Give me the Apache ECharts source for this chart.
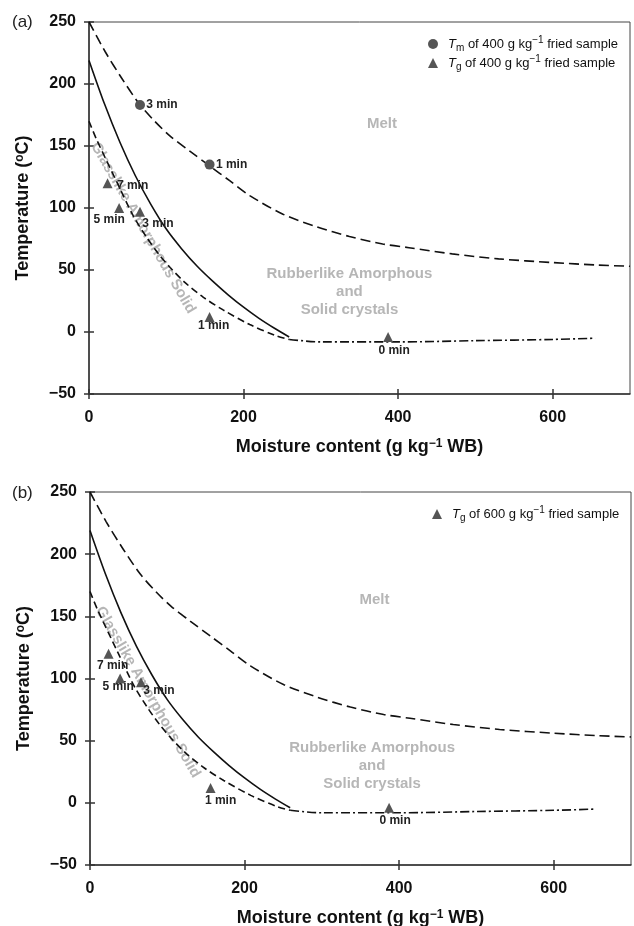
<!DOCTYPE html>
<html>
<head>
<meta charset="utf-8">
<script src="https://cdn.jsdelivr.net/npm/echarts@6/dist/echarts.min.js"></script>
<style>
  html, body { margin: 0; padding: 0; background: #fff; }
  #chart { width: 634px; height: 926px; }
</style>
</head>
<body>
<div id="chart"></div>
<script>
// curves (moisture g/kg, temperature C)
const tmCurve = [[0, 250], [21, 226], [43, 204], [65, 184], [85, 170], [105, 158], [130, 146], [156, 134], [182, 122], [208, 110], [251, 95], [294, 85], [337, 77], [380, 71], [414, 68], [470, 63], [530, 59], [600, 56], [658, 54], [700, 53]]
const tgSolidCurve = [[0, 219], [20, 184], [40, 153], [60, 126], [80, 103], [100, 83], [120, 67], [140, 53], [160, 41], [180, 30], [200, 20], [220, 11], [240, 3], [259, -4]]
const tgDashCurve = [[0, 170], [10, 155], [36, 121], [57, 94], [75, 76], [90, 63], [105, 52], [124, 40], [148, 28], [173, 18], [208, 6], [242, -3], [259, -6]]
const iceCurve = [[259, -6], [300, -8], [400, -8], [500, -7], [600, -6], [655, -5]]

// measured samples
const tmPoints = [[66, 183], [156, 135]]
const tmLabels = ['3 min', '1 min']
const tgPoints = [[24, 120], [39, 100], [66, 97], [156, 12], [387, -4]]
const tgLabels = ['7 min', '5 min', '3 min', '1 min', '0 min']

const xTicks = [0, 200, 400, 600]
const legendNames = {
  Tm400: '{i|T}{sub|m} of 400 g kg{sup|\u22121} fried sample',
  Tg400: '{i|T}{sub|g} of 400 g kg{sup|\u22121} fried sample',
  Tg600: '{i|T}{sub|g} of 600 g kg{sup|\u22121} fried sample'
}

const font = 'Liberation Sans, Arial, Helvetica, sans-serif'
const ink = '#111'
const markColor = '#555'
const gray = '#a4a4a4'

// per-panel label offsets (px from the marker centre)
const tmOffsets = [[22, 0], [22, 0]]
const tgOffsets = [
  [[25, 2], [-10, 12], [18, 12], [4, 9], [6, 14]],
  [[4, 12], [-2, 8], [18, 8], [10, 13], [6, 13]]
]
const regions = [
  [
    { text: 'Melt', value: [379, 168] },
    { text: 'Rubberlike Amorphous\nand\nSolid crystals', value: [337, 32] },
    { text: 'Glasslike Amorphous Solid', value: [70, 84], rotate: -60 }
  ],
  [
    { text: 'Melt', value: [368, 163] },
    { text: 'Rubberlike Amorphous\nand\nSolid crystals', value: [365, 30] },
    { text: 'Glasslike Amorphous Solid', value: [75, 89], rotate: -60 }
  ]
]

const axisColor = '#333'
const nameRich = {
  sup: { fontSize: 12, fontWeight: 'bold', fontFamily: font, color: ink, verticalAlign: 'top', lineHeight: 12 }
}

function xMain(gi) {
  return {
    gridIndex: gi, type: 'value', min: 0, max: 700, interval: 200,
    axisLine: { onZero: false, lineStyle: { color: axisColor, width: 1.5 } },
    axisTick: { length: 5, customValues: xTicks, lineStyle: { color: axisColor, width: 1.5 } },
    axisLabel: { customValues: xTicks, margin: 16, fontSize: 16, fontWeight: 'bold', color: ink, fontFamily: font },
    splitLine: { show: false },
    name: 'Moisture content (g kg{sup|\u22121} WB)',
    nameLocation: 'middle', nameGap: 44,
    nameTextStyle: { fontSize: 18, fontWeight: 'bold', color: ink, fontFamily: font, rich: nameRich }
  }
}
function xInner(gi) {
  return {
    gridIndex: gi, type: 'value', min: 0, max: 700, interval: 200, position: 'bottom',
    axisLine: { show: false, onZero: false }, axisLabel: { show: false }, splitLine: { show: false },
    axisTick: { inside: true, length: 5, customValues: xTicks, lineStyle: { color: axisColor, width: 1.5 } }
  }
}
function yMain(gi) {
  return {
    gridIndex: gi, type: 'value', min: -50, max: 250, interval: 50,
    axisLine: { onZero: false, lineStyle: { color: axisColor, width: 1.5 } },
    axisTick: { length: 5, lineStyle: { color: axisColor, width: 1.5 } },
    axisLabel: { margin: 13, fontSize: 16, fontWeight: 'bold', color: ink, fontFamily: font,
      formatter: v => String(v).replace('-', '\u2212') },
    splitLine: { show: false },
    name: 'Temperature ({sup|o}C)',
    nameLocation: 'middle', nameGap: 57,
    nameTextStyle: { fontSize: 18, fontWeight: 'bold', color: ink, fontFamily: font, rich: nameRich }
  }
}
function yInner(gi) {
  return {
    gridIndex: gi, type: 'value', min: -50, max: 250, interval: 50, position: 'left',
    axisLine: { show: false, onZero: false }, axisLabel: { show: false }, splitLine: { show: false },
    axisTick: { inside: true, length: 5, lineStyle: { color: axisColor, width: 1.5 } }
  }
}

function curve(p, data, dash) {
  return {
    type: 'line', xAxisIndex: p * 2, yAxisIndex: p * 2, data: data,
    smooth: 0.3, symbol: 'none', silent: true, z: 2,
    lineStyle: { color: ink, width: 1.6, type: dash }
  }
}

const pointLabel = {
  show: true, position: 'inside', fontSize: 12, fontWeight: 'bold', color: '#222', fontFamily: font
}

function points(p, name, pts, labels, offsets, symbol) {
  return {
    type: 'scatter', name: name, xAxisIndex: p * 2, yAxisIndex: p * 2,
    symbol: symbol, symbolSize: 10, z: 4,
    itemStyle: { color: markColor, opacity: 1 },
    data: pts.map((d, i) => ({
      value: d,
      label: Object.assign({}, pointLabel, { formatter: labels[i], offset: offsets[i] })
    }))
  }
}

function regionText(p) {
  return {
    type: 'scatter', xAxisIndex: p * 2, yAxisIndex: p * 2, silent: true, z: 1,
    symbolSize: 1, itemStyle: { color: 'rgba(0,0,0,0)' },
    data: regions[p].map(r => ({
      value: r.value,
      label: {
        show: true, position: 'inside', formatter: r.text, rotate: r.rotate || 0,
        fontSize: 15, fontWeight: 'bold', color: gray, fontFamily: font, lineHeight: 18, align: 'center'
      }
    }))
  }
}

const legendText = {
  color: ink, fontSize: 13, fontFamily: font, padding: [0, 0, 0, 5],
  rich: {
    i: { fontStyle: 'italic', fontSize: 13, fontFamily: font, color: ink, lineHeight: 18 },
    sub: { fontSize: 10, fontFamily: font, color: ink, verticalAlign: 'bottom', lineHeight: 10 },
    sup: { fontSize: 10, fontFamily: font, color: ink, verticalAlign: 'top', lineHeight: 10 }
  }
}

const chart = echarts.init(document.getElementById('chart'))
chart.setOption({
  animation: false,
  backgroundColor: '#fff',
  grid: [
    { left: 89, top: 22, width: 541, height: 372, show: true, borderColor: '#444', borderWidth: 1, outerBoundsMode: 'none' },
    { left: 90, top: 492, width: 541, height: 373, show: true, borderColor: '#444', borderWidth: 1, outerBoundsMode: 'none' }
  ],
  xAxis: [xMain(0), xInner(0), xMain(1), xInner(1)],
  yAxis: [yMain(0), yInner(0), yMain(1), yInner(1)],
  legend: [
    {
      data: [{ name: 'Tm400', icon: 'circle' }, { name: 'Tg400', icon: 'triangle' }],
      left: 423, top: 30, orient: 'vertical', itemWidth: 10, itemHeight: 10, itemGap: 1,
      selectedMode: false, formatter: n => legendNames[n], textStyle: legendText
    },
    {
      data: [{ name: 'Tg600', icon: 'triangle' }],
      left: 427, top: 500, orient: 'vertical', itemWidth: 10, itemHeight: 10,
      selectedMode: false, formatter: n => legendNames[n], textStyle: legendText
    }
  ],
  graphic: [
    { type: 'text', left: 12, top: 14, style: { text: '(a)', fontSize: 17, fill: '#222', fontFamily: font } },
    { type: 'text', left: 12, top: 485, style: { text: '(b)', fontSize: 17, fill: '#222', fontFamily: font } }
  ],
  series: [
    curve(0, tmCurve, [10, 5]),
    curve(0, tgSolidCurve, 'solid'),
    curve(0, tgDashCurve, [7, 4]),
    curve(0, iceCurve, [9, 3, 2, 3]),
    regionText(0),
    points(0, 'Tm400', tmPoints, tmLabels, tmOffsets, 'circle'),
    points(0, 'Tg400', tgPoints, tgLabels, tgOffsets[0], 'triangle'),

    curve(1, tmCurve, [10, 5]),
    curve(1, tgSolidCurve, 'solid'),
    curve(1, tgDashCurve, [7, 4]),
    curve(1, iceCurve, [9, 3, 2, 3]),
    regionText(1),
    points(1, 'Tg600', tgPoints, tgLabels, tgOffsets[1], 'triangle')
  ]
})
</script>
</body>
</html>
